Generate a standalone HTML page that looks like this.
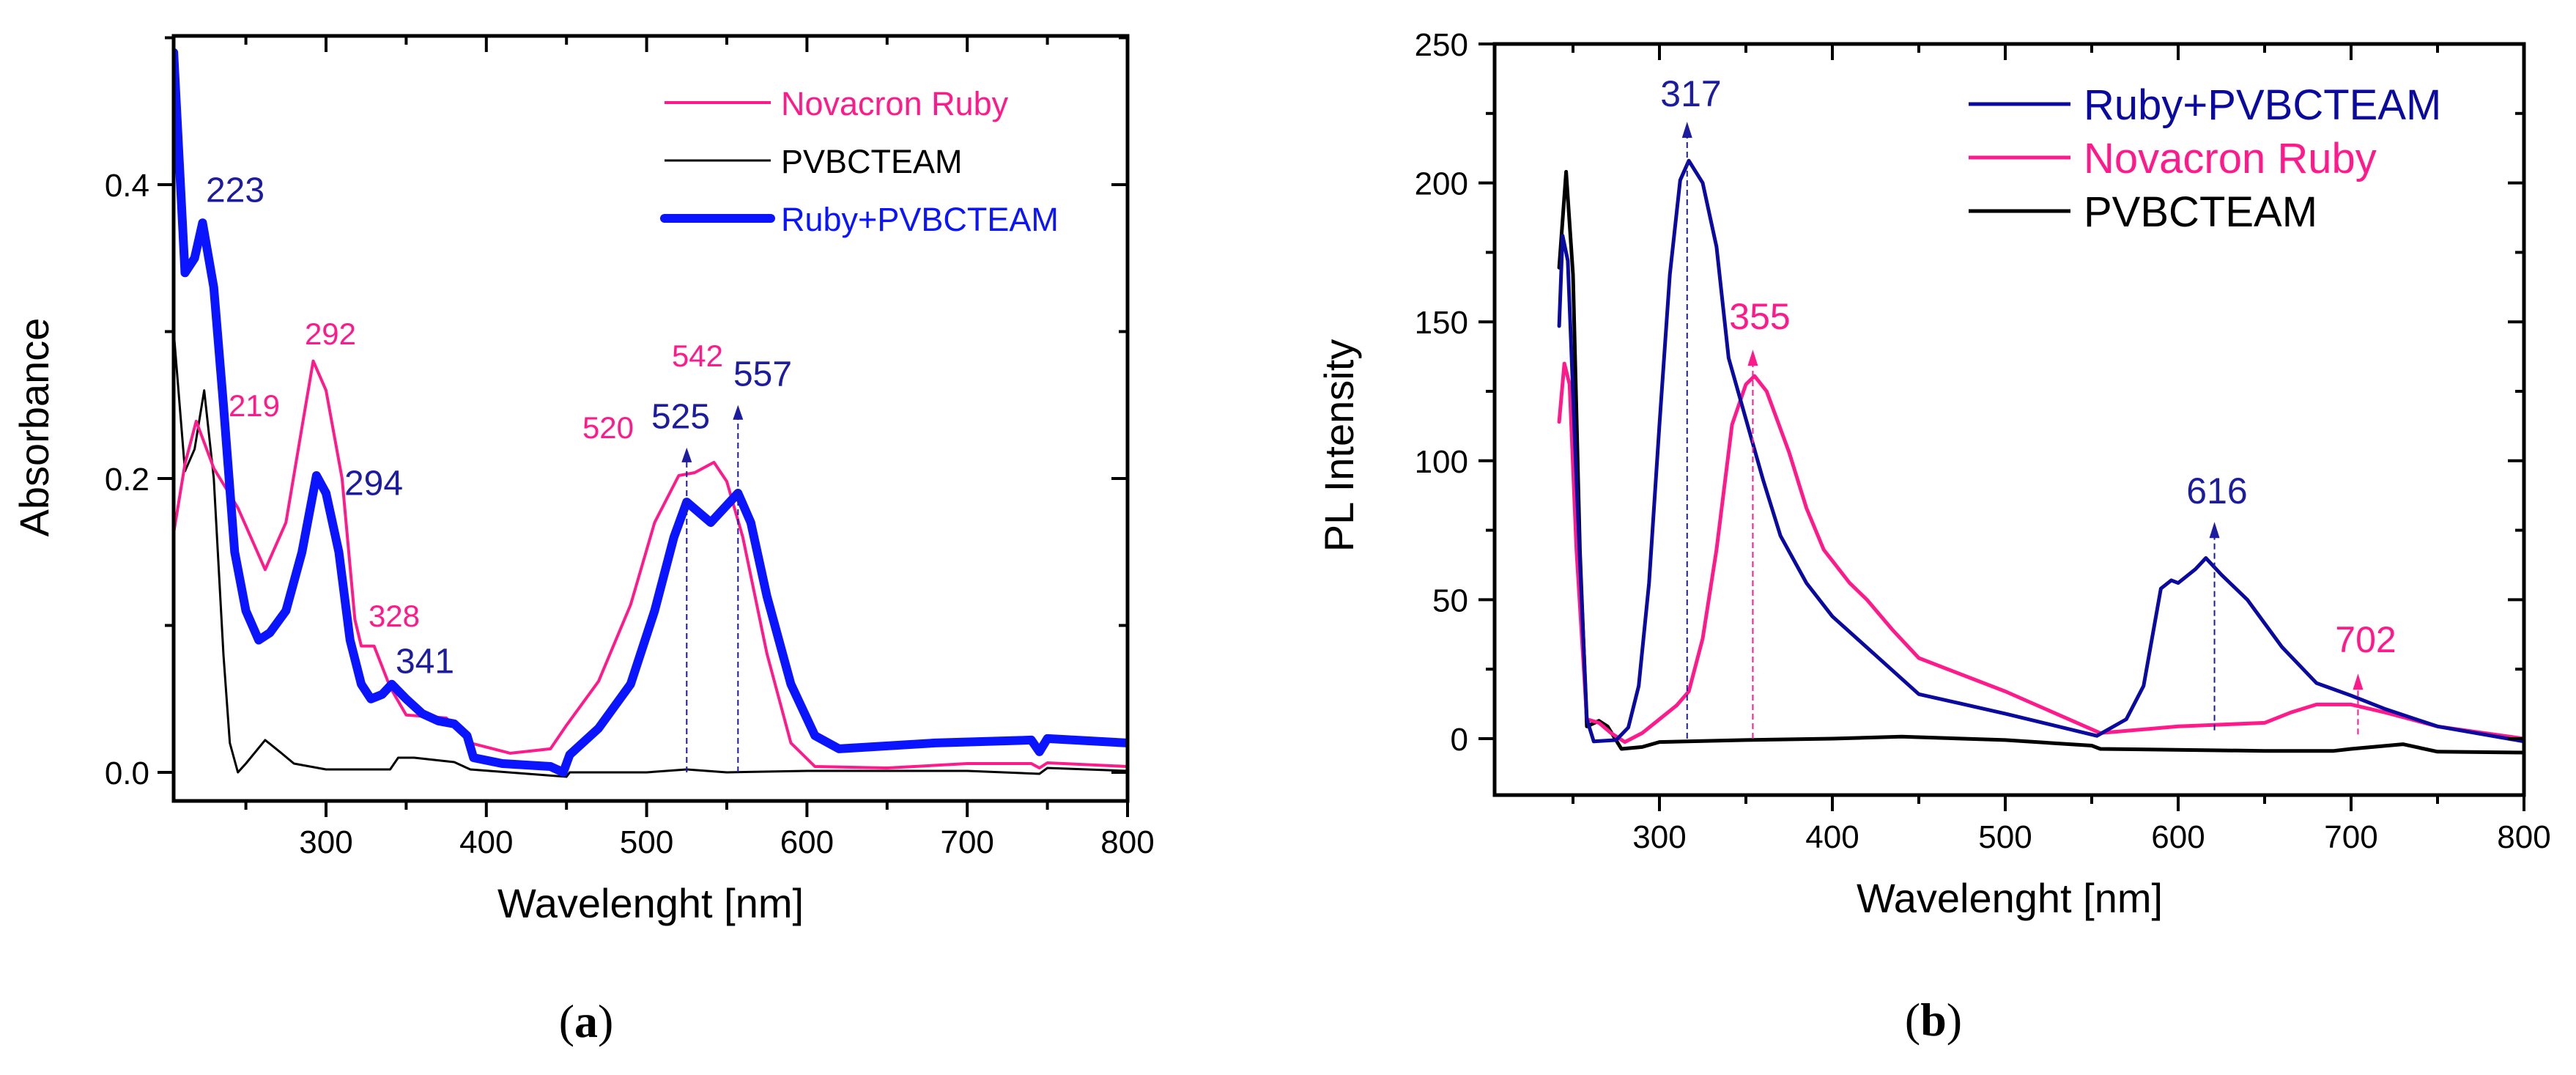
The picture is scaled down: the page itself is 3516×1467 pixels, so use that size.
<!DOCTYPE html>
<html><head><meta charset="utf-8"><style>
html,body{margin:0;padding:0;background:#fff}
svg{display:block;font-family:"Liberation Sans",sans-serif}
</style></head><body>
<svg id="fig" width="3516" height="1467" viewBox="0 0 3516 1467" xmlns="http://www.w3.org/2000/svg">
<g id="ga"></g>
<g id="gb"></g>
</svg>
<script>
// ---------- Chart (a) data ----------
const aRubyPvX=[205,212,218,223,230,236,243,250,258,265,275,285,294,300,308,315,322,328,335,341,350,360,370,380,388,392,410,440,448,452,470,490,505,517,525,540,557,565,575,590,605,620,680,740,745,750,800];
const aRubyPvY=[0.49,0.34,0.35,0.374,0.33,0.25,0.15,0.11,0.09,0.095,0.11,0.15,0.202,0.19,0.15,0.09,0.06,0.05,0.053,0.06,0.05,0.04,0.035,0.033,0.025,0.01,0.006,0.004,0.0,0.012,0.03,0.06,0.11,0.16,0.184,0.17,0.19,0.17,0.12,0.06,0.025,0.016,0.02,0.022,0.014,0.023,0.02];
const aRubyX=[205,212,219,230,245,262,275,285,292,300,310,318,322,330,340,350,375,390,415,440,450,470,490,505,520,530,542,550,560,575,590,605,650,700,740,745,750,800];
const aRubyY=[0.163,0.21,0.239,0.207,0.18,0.138,0.17,0.235,0.28,0.26,0.2,0.104,0.086,0.086,0.058,0.039,0.037,0.02,0.013,0.016,0.032,0.062,0.114,0.17,0.202,0.204,0.211,0.198,0.16,0.081,0.02,0.004,0.003,0.006,0.006,0.003,0.0065,0.004];
const aPvX=[205,212,218,224,230,236,240,245,250,262,270,280,300,340,345,355,380,390,450,452,500,525,550,600,700,745,750,800];
const aPvY=[0.30,0.205,0.22,0.26,0.2,0.08,0.02,0.0,0.006,0.022,0.015,0.006,0.002,0.002,0.01,0.01,0.007,0.002,-0.003,0.0,0.0,0.002,0.0,0.001,0.001,-0.001,0.003,0.001];
const aXTicks=[300,400,500,600,700,800];
const aYTicks=[0.0,0.2,0.4];
const aYTickLabels=["0.0","0.2","0.4"];
// ---------- Chart (b) data ----------
const bRubyPvX=[242,244,247,252,258,262,275,282,288,294,300,306,312,317,325,333,340,350,360,370,385,400,425,450,500,553,570,580,590,596,600,610,616,625,640,660,680,700,720,750,800];
const bRubyPvY=[148.5,181,172,93,7,-1,-0.5,4,19,56,113,167,201,208,200,177,137,115,93,73,56,44,30,16,9,1,7,19,54,57,56,61,65,59,50,33,20,15.5,10.6,4.4,-1];
const bRubyX=[242,245,248,252,258,265,272,280,290,300,310,317,325,333,342,350,355,362,375,385,395,410,420,435,450,500,555,600,650,665,680,700,720,750,800];
const bRubyY=[114,135,127.5,68,7,5.7,2,-1.2,2,7,12,17,36,68,113,127.5,130.5,125,103,83,68,56,50,39,29,17,2,4.4,5.7,9.4,12.3,12.3,9.4,4.4,0];
const bPvX=[242,246,250,254,258,265,270,278,290,300,350,400,440,500,550,555,650,690,700,730,750,800];
const bPvY=[169.5,204,167,68,4.4,6.4,4.4,-3.7,-3,-1.2,-0.5,0,0.7,-0.5,-2.5,-3.7,-4.4,-4.4,-3.7,-2,-4.7,-5];
const bXTicks=[300,400,500,600,700,800];
const bYTicks=[0,50,100,150,200,250];

const NS="http://www.w3.org/2000/svg";
function mk(parent,tag,attrs,text){const e=document.createElementNS(NS,tag);for(const k in attrs)e.setAttribute(k,attrs[k]);if(text!==undefined)e.textContent=text;parent.appendChild(e);return e;}

function axis(x0,x1,px0,px1){return v=>px0+(v-x0)/(x1-x0)*(px1-px0);}

// ---- Chart a ----
(function(){
const g=document.getElementById('ga');
const L=237,R=1539,T=49,B=1093;
const X=axis(205,800,L,1539+ (1539-445)/5*0 ) ;
const Xs=v=>445+(v-300)*2.188;
const Y=v=>1054-v*2005;
// series
function line(xs,ys,color,w,name){
  const p=mk(g,'polyline',{points:xs.map((x,i)=>Xs(x).toFixed(1)+','+Y(ys[i]).toFixed(1)).join(' '),fill:'none',stroke:color,'stroke-width':w,'stroke-linejoin':'round','stroke-linecap':'round'});
  
  
}
mk(g,'clipPath',{id:'ca'}).appendChild(document.createElementNS(NS,'rect'));
const cr=document.querySelector('#ca rect');cr.setAttribute('x',L);cr.setAttribute('y',T);cr.setAttribute('width',R-L);cr.setAttribute('height',B-T);
const sg=mk(g,'g',{'clip-path':'url(#ca)'});
const gg=g;
function line2(xs,ys,color,w,name){
  const p=mk(sg,'polyline',{points:xs.map((x,i)=>Xs(x).toFixed(1)+','+Y(ys[i]).toFixed(1)).join(' '),fill:'none',stroke:color,'stroke-width':w,'stroke-linejoin':'round','stroke-linecap':'round'});
  
  
}
line2(aPvX,aPvY,'#000',3,'pvbcteam-absorbance-line');
line2(aRubyX,aRubyY,'#ff1a8c',4,'novacron-ruby-absorbance-line');
line2(aRubyPvX,aRubyPvY,'#0a14ff',12,'ruby-pvbcteam-absorbance-line');
// dashed markers
[[525,0.221],[557,0.25]].forEach((m,i)=>{
  const l=mk(g,'line',{x1:Xs(m[0]),x2:Xs(m[0]),y1:Y(0),y2:Y(m[1])+14,stroke:'#1c1ca0','stroke-width':2,'stroke-dasharray':'8,5'});
  
  
  const a=mk(g,'polygon',{points:`${Xs(m[0])-7},${Y(m[1])+20} ${Xs(m[0])+7},${Y(m[1])+20} ${Xs(m[0])},${Y(m[1])}`,fill:'#1c1ca0'});
  
  
});
// frame
mk(g,'rect',{x:L,y:T,width:R-L,height:B-T,fill:'none',stroke:'#000','stroke-width':5,});
for(let v=250;v<=800;v+=50){const x=Xs(v);const maj=v%100===0;
  mk(g,'line',{x1:x,x2:x,y1:B,y2:B+(maj?22:12),stroke:'#000','stroke-width':4});
  mk(g,'line',{x1:x,x2:x,y1:T,y2:T+(maj?22:12),stroke:'#000','stroke-width':4});}
for(let k=0;k<=5;k++){const y=Y(k*0.1);const maj=k%2===0;
  mk(g,'line',{x1:L,x2:L-(maj?22:12),y1:y,y2:y,stroke:'#000','stroke-width':4});
  mk(g,'line',{x1:R,x2:R-(maj?22:12),y1:y,y2:y,stroke:'#000','stroke-width':4});}
aXTicks.forEach(v=>{const t=mk(g,'text',{x:Xs(v),y:1164,'font-size':44,'text-anchor':'middle'},String(v));
  
  });
aYTicks.forEach((v,i)=>{const t=mk(g,'text',{x:204,y:Y(v)+16,'font-size':44,'text-anchor':'end'},aYTickLabels[i]);
  
  });
mk(g,'text',{x:888,y:1252,'font-size':56,'text-anchor':'middle',},'Wavelenght [nm]');
mk(g,'text',{x:0,y:0,'font-size':56,'text-anchor':'middle',transform:'translate(66,583) rotate(-90)',},'Absorbance');
// legend
const lg=mk(g,'g',{});
mk(lg,'line',{x1:907,x2:1052,y1:140,y2:140,stroke:'#ff1a8c','stroke-width':4});
mk(lg,'text',{x:1066,y:157,'font-size':45,fill:'#ff1a8c'},'Novacron Ruby');
mk(lg,'line',{x1:907,x2:1052,y1:219,y2:219,stroke:'#000','stroke-width':3});
mk(lg,'text',{x:1066,y:236,'font-size':45,fill:'#000'},'PVBCTEAM');
mk(lg,'line',{x1:907,x2:1052,y1:298,y2:298,stroke:'#0a14ff','stroke-width':12,'stroke-linecap':'round'});
mk(lg,'text',{x:1066,y:315,'font-size':45,fill:'#0a14ff'},'Ruby+PVBCTEAM');
// annotations
const DB='#1c1ca0',PK='#ff1a8c';
[['223',321,258,DB,48],['219',347,553,PK,42],['292',451,455,PK,42],['294',510,658,DB,48],['328',538,840,PK,42],['341',580,901,DB,48],['520',830,583,PK,42],['525',929,567,DB,48],['542',952,485,PK,42],['557',1041,509,DB,48]].forEach(a=>{
  const t=mk(g,'text',{x:a[1],y:a[2]+a[4]*0.36,'font-size':a[4],fill:a[3],'text-anchor':'middle'},a[0]);
  
  
});
const cap=mk(g,'text',{x:800,y:1415,'font-size':64,'text-anchor':'middle','font-family':'Liberation Serif, serif',});
cap.innerHTML='(<tspan font-weight="bold">a</tspan>)';
})();

// ---- Chart b ----
(function(){
const g=document.getElementById('gb');
const L=2040,R=3445,T=60,B=1085;
const Xs=v=>2265+(v-300)*2.36;
const Y=v=>1008-v*3.792;
const cp=mk(g,'clipPath',{id:'cb'});mk(cp,'rect',{x:L,y:T,width:R-L,height:B-T});
const sg=mk(g,'g',{'clip-path':'url(#cb)'});
function line2(xs,ys,color,w,name){
  const p=mk(sg,'polyline',{points:xs.map((x,i)=>Xs(x).toFixed(1)+','+Y(ys[i]).toFixed(1)).join(' '),fill:'none',stroke:color,'stroke-width':w,'stroke-linejoin':'round','stroke-linecap':'round'});
  
  
}
line2(bPvX,bPvY,'#000',5,'pvbcteam-pl-line');
line2(bRubyX,bRubyY,'#ff1a8c',5,'novacron-ruby-pl-line');
line2(bRubyPvX,bRubyPvY,'#0a0aa0',5,'ruby-pvbcteam-pl-line');
[[316,0,222,'#1c1ca0'],[354,0,140,'#ff1a8c'],[621,3,78,'#1c1ca0'],[704,1.5,23.4,'#ff1a8c']].forEach(m=>{
  const l=mk(g,'line',{x1:Xs(m[0]),x2:Xs(m[0]),y1:Y(m[1]),y2:Y(m[2])+14,stroke:m[3],'stroke-width':2,'stroke-dasharray':'8,5'});
  
  
  const a=mk(g,'polygon',{points:`${Xs(m[0])-7},${Y(m[2])+22} ${Xs(m[0])+7},${Y(m[2])+22} ${Xs(m[0])},${Y(m[2])}`,fill:m[3]});
  
  
});
mk(g,'rect',{x:L,y:T,width:R-L,height:B-T,fill:'none',stroke:'#000','stroke-width':5,});
for(let v=250;v<=800;v+=50){const x=Xs(v);const maj=v%100===0;
  mk(g,'line',{x1:x,x2:x,y1:B,y2:B+(maj?22:12),stroke:'#000','stroke-width':4});
  mk(g,'line',{x1:x,x2:x,y1:T,y2:T+(maj?22:12),stroke:'#000','stroke-width':4});}
for(let v=-0;v<=250;v+=25){const y=Y(v);const maj=v%50===0;
  mk(g,'line',{x1:L,x2:L-(maj?22:12),y1:y,y2:y,stroke:'#000','stroke-width':4});
  mk(g,'line',{x1:R,x2:R-(maj?22:12),y1:y,y2:y,stroke:'#000','stroke-width':4});}
bXTicks.forEach(v=>{const t=mk(g,'text',{x:Xs(v),y:1157,'font-size':44,'text-anchor':'middle'},String(v));
  
  });
bYTicks.forEach(v=>{const t=mk(g,'text',{x:2004,y:Y(v)+16,'font-size':44,'text-anchor':'end'},String(v));
  
  });
mk(g,'text',{x:2743,y:1245,'font-size':56,'text-anchor':'middle',},'Wavelenght [nm]');
mk(g,'text',{x:0,y:0,'font-size':56,'text-anchor':'middle',transform:'translate(1847,608) rotate(-90)',},'PL Intensity');
const lg=mk(g,'g',{});
mk(lg,'line',{x1:2687,x2:2826,y1:142,y2:142,stroke:'#0a0aa0','stroke-width':5});
mk(lg,'text',{x:2844,y:163,'font-size':58,fill:'#0a0aa0'},'Ruby+PVBCTEAM');
mk(lg,'line',{x1:2687,x2:2826,y1:215,y2:215,stroke:'#ff1a8c','stroke-width':5});
mk(lg,'text',{x:2844,y:236,'font-size':58,fill:'#ff1a8c'},'Novacron Ruby');
mk(lg,'line',{x1:2687,x2:2826,y1:288,y2:288,stroke:'#000','stroke-width':5});
mk(lg,'text',{x:2844,y:309,'font-size':58,fill:'#000'},'PVBCTEAM');
[['317',2308,127,'#1c1ca0'],['355',2402,431,'#ff1a8c'],['616',3026,669,'#1c1ca0'],['702',3229,872,'#ff1a8c']].forEach(a=>{
  const t=mk(g,'text',{x:a[1],y:a[2]+18,'font-size':50,fill:a[3],'text-anchor':'middle'},a[0]);
  
  
});
const cap=mk(g,'text',{x:2639,y:1413,'font-size':64,'text-anchor':'middle','font-family':'Liberation Serif, serif',});
cap.innerHTML='(<tspan font-weight="bold">b</tspan>)';
})();
</script>
</body></html>
